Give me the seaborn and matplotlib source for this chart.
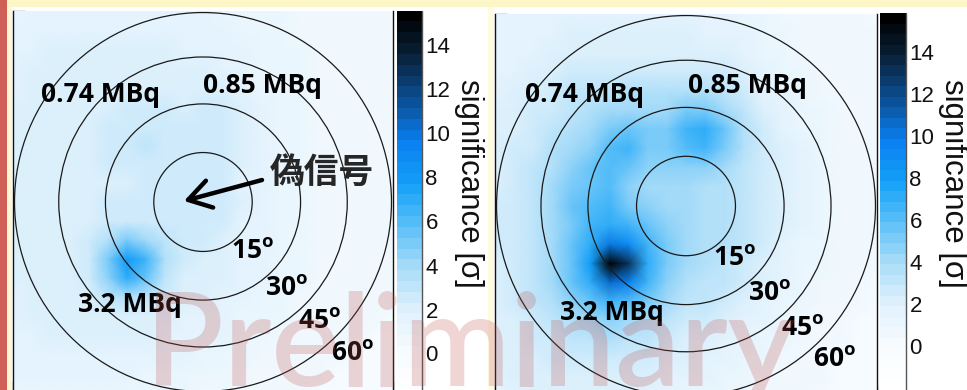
import numpy as np
import pandas as pd
import matplotlib
matplotlib.use("Agg")
import matplotlib.pyplot as plt
from matplotlib.colors import ListedColormap
from matplotlib.patches import Circle, Rectangle
import seaborn as sns

# ---------------- data (significance, 21x21 nodes) ----------------
left_significance = [
    [1.4,1.5,1.5,1.6,1.6,1.6,1.6,1.6,1.6,1.5,1.5,1.4,1.3,1.1,1.0,0.9,0.8,0.7,0.6,0.6,0.6],
    [1.6,1.7,1.7,1.8,1.8,1.8,1.8,1.8,1.8,1.7,1.7,1.5,1.4,1.2,1.0,0.9,0.8,0.7,0.6,0.6,0.6],
    [1.8,1.9,2.0,2.1,2.1,2.1,2.1,2.1,2.1,1.9,1.9,1.8,1.5,1.3,1.1,1.0,0.8,0.7,0.7,0.6,0.6],
    [1.9,2.0,2.1,2.2,2.2,2.2,2.2,2.2,2.2,2.0,2.0,1.9,1.5,1.3,1.1,1.0,0.9,0.8,0.7,0.6,0.6],
    [1.9,2.0,2.1,2.2,2.3,2.3,2.3,2.3,2.3,2.1,2.1,2.1,1.6,1.4,1.2,1.0,0.9,0.8,0.7,0.6,0.6],
    [2.0,2.1,2.2,2.3,2.3,2.4,2.5,2.6,2.5,2.4,2.5,2.5,2.0,1.6,1.3,1.1,0.9,0.8,0.7,0.6,0.6],
    [2.0,2.1,2.2,2.3,2.3,2.5,2.7,2.8,2.7,2.6,2.7,2.8,2.2,1.7,1.3,1.1,0.9,0.8,0.7,0.6,0.6],
    [2.0,2.1,2.2,2.3,2.3,2.6,2.8,3.0,2.8,2.7,2.8,2.8,2.2,1.7,1.3,1.1,0.9,0.8,0.7,0.6,0.6],
    [2.0,2.1,2.2,2.3,2.3,2.5,2.7,2.8,2.8,2.6,2.7,2.7,2.1,1.5,1.3,1.1,0.9,0.8,0.7,0.6,0.6],
    [2.0,2.1,2.2,2.3,2.3,2.4,2.4,2.6,2.6,2.7,2.7,2.6,1.9,1.5,1.3,1.1,0.9,0.8,0.7,0.6,0.6],
    [2.0,2.1,2.2,2.3,2.4,2.6,2.6,2.6,2.7,2.8,2.8,2.6,2.0,1.6,1.3,1.1,0.9,0.8,0.7,0.6,0.6],
    [2.0,2.1,2.2,2.3,2.3,2.6,2.9,2.8,2.7,2.7,2.7,2.5,1.9,1.5,1.3,1.1,0.9,0.8,0.7,0.6,0.6],
    [2.0,2.1,2.2,2.3,2.6,3.8,5.1,4.3,3.0,2.6,2.5,2.3,1.8,1.5,1.3,1.1,0.9,0.8,0.7,0.6,0.6],
    [2.0,2.1,2.2,2.3,2.9,5.3,8.0,6.5,3.5,2.5,2.3,2.1,1.7,1.5,1.3,1.1,0.9,0.8,0.7,0.6,0.6],
    [2.0,2.1,2.2,2.3,2.7,4.7,6.9,5.6,3.2,2.4,2.2,2.1,1.7,1.5,1.3,1.1,0.9,0.8,0.7,0.6,0.6],
    [1.9,2.0,2.1,2.2,2.3,3.0,3.6,3.2,2.5,2.1,2.0,1.9,1.5,1.3,1.1,0.9,0.8,0.7,0.6,0.5,0.5],
    [1.9,2.0,2.1,2.1,2.1,2.3,2.3,2.3,2.1,1.9,1.8,1.7,1.3,1.1,1.0,0.8,0.7,0.6,0.5,0.5,0.4],
    [1.8,1.9,2.0,2.0,2.0,2.1,2.1,2.0,1.9,1.7,1.6,1.5,1.1,1.0,0.9,0.7,0.6,0.5,0.5,0.4,0.4],
    [1.7,1.8,1.8,1.8,1.8,1.8,1.8,1.7,1.6,1.5,1.4,1.3,1.0,0.9,0.8,0.6,0.5,0.5,0.4,0.4,0.3],
    [1.5,1.6,1.6,1.6,1.6,1.6,1.5,1.4,1.3,1.2,1.1,1.0,0.9,0.8,0.7,0.6,0.5,0.4,0.4,0.3,0.3],
    [1.4,1.4,1.4,1.4,1.4,1.4,1.3,1.2,1.1,1.0,0.9,0.9,0.8,0.7,0.6,0.5,0.4,0.4,0.3,0.3,0.3],
]

right_significance = [
    [1.5,1.6,1.6,1.7,1.7,1.8,1.8,1.8,1.8,1.8,1.7,1.6,1.5,1.3,1.1,0.9,0.7,0.6,0.5,0.5,0.4],
    [1.6,1.7,1.8,1.9,2.0,2.0,2.1,2.1,2.1,2.1,2.0,1.9,1.8,1.5,1.2,1.0,0.8,0.7,0.6,0.5,0.5],
    [1.7,1.8,1.9,2.1,2.2,2.3,2.4,2.4,2.4,2.4,2.3,2.2,2.0,1.7,1.4,1.1,0.9,0.7,0.6,0.5,0.5],
    [1.8,1.9,2.1,2.3,2.5,2.7,2.8,2.8,2.8,2.8,2.8,2.8,2.5,2.1,1.6,1.3,1.0,0.8,0.7,0.6,0.5],
    [1.9,2.1,2.3,2.6,3.0,3.2,3.4,3.5,3.5,3.5,3.6,3.6,3.1,2.5,1.9,1.5,1.2,0.9,0.8,0.6,0.6],
    [2.0,2.2,2.5,2.9,3.4,3.8,4.0,4.2,4.1,4.3,5.1,5.4,4.3,3.0,2.2,1.7,1.3,1.0,0.8,0.7,0.6],
    [2.1,2.3,2.7,3.2,3.8,4.3,5.2,5.6,5.0,5.0,6.5,7.2,5.6,3.5,2.5,1.9,1.4,1.1,0.9,0.7,0.6],
    [2.2,2.5,2.9,3.5,4.1,4.9,6.2,6.6,5.4,5.0,6.0,6.6,5.3,3.6,2.7,2.0,1.5,1.1,0.9,0.7,0.6],
    [2.3,2.6,3.1,3.8,4.6,5.6,6.0,5.8,4.9,4.5,4.7,4.9,4.3,3.4,2.7,2.1,1.6,1.2,0.9,0.7,0.6],
    [2.4,2.7,3.2,4.0,5.2,5.9,6.0,4.8,4.4,4.2,4.0,3.9,3.7,3.3,2.7,2.1,1.6,1.2,0.9,0.7,0.6],
    [2.5,2.8,3.3,4.1,5.5,6.4,6.5,5.2,4.7,4.3,4.0,3.9,3.7,3.3,2.7,2.1,1.6,1.2,0.9,0.7,0.6],
    [2.5,2.8,3.4,4.2,5.2,6.9,7.4,6.5,5.6,4.6,4.2,3.9,3.6,3.2,2.6,2.0,1.5,1.1,0.9,0.7,0.5],
    [2.5,2.8,3.4,4.4,5.7,7.3,10.0,9.0,6.6,5.1,4.2,3.9,3.5,3.0,2.5,1.9,1.4,1.1,0.8,0.6,0.5],
    [2.4,2.7,3.3,4.4,5.9,8.3,15.5,13.0,7.0,5.2,4.2,3.7,3.3,2.8,2.3,1.8,1.3,1.0,0.8,0.6,0.5],
    [2.4,2.6,3.2,4.1,5.5,7.3,10.5,9.8,6.5,4.8,3.8,3.4,3.0,2.6,2.1,1.6,1.2,0.9,0.7,0.5,0.4],
    [2.3,2.5,3.0,3.6,4.6,5.7,6.5,6.2,5.2,4.0,3.3,3.0,2.6,2.2,1.8,1.4,1.0,0.8,0.6,0.5,0.4],
    [2.2,2.4,2.7,3.2,3.8,4.3,4.6,4.4,3.8,3.2,2.8,2.5,2.2,1.9,1.5,1.2,0.9,0.7,0.5,0.4,0.4],
    [2.1,2.3,2.5,2.8,3.2,3.4,3.5,3.3,3.0,2.6,2.3,2.1,1.9,1.6,1.3,1.0,0.8,0.6,0.5,0.4,0.3],
    [2.0,2.1,2.3,2.5,2.7,2.8,2.9,2.8,2.5,2.2,2.0,1.8,1.6,1.3,1.1,0.9,0.7,0.5,0.4,0.4,0.3],
    [1.9,2.0,2.1,2.3,2.4,2.4,2.4,2.3,2.1,1.9,1.7,1.5,1.3,1.1,0.9,0.7,0.6,0.5,0.4,0.3,0.3],
    [1.8,1.9,2.0,2.1,2.1,2.1,2.1,2.0,1.8,1.6,1.4,1.3,1.1,0.9,0.8,0.6,0.5,0.4,0.3,0.3,0.3],
]

ring_angles_deg = [15, 30, 45, 60]
source_labels = ["0.74 MBq", "0.85 MBq", "3.2 MBq"]
fake_signal_label = "偽信号"
cbar_ticks = [0, 2, 4, 6, 8, 10, 12, 14]
cbar_title = "significance [σ]"
watermark = "Preliminary"
palette_anchor_colors = ["#ffffff", "#f6fbff", "#dff1fc", "#a8dcf8", "#5cc0f8",
                         "#12a0f8", "#0a80f0", "#0b4f96", "#0a2440", "#000000"]

# ---------------- style ----------------
sns.set_theme(style="white")
plt.rcParams["font.family"] = ["Liberation Sans", "DejaVu Sans"]
plt.rcParams["mathtext.fontset"] = "custom"
plt.rcParams["mathtext.bf"] = "Open Sans:bold"
plt.rcParams["mathtext.rm"] = "Open Sans"

cmap = ListedColormap(sns.blend_palette(palette_anchor_colors, n_colors=36))

W, H = 967, 390
fig = plt.figure(figsize=(W / 100, H / 100), dpi=100)
fig.patch.set_facecolor("white")


def box(x0, y0, x1, y1):
    return [x0 / W, 1 - y1 / H, (x1 - x0) / W, (y1 - y0) / H]


panels = [
    dict(grid=left_significance, ax=box(13, 11, 393, 393), cax=box(397, 10.6, 422, 400), vmax=15.7),
    dict(grid=right_significance, ax=box(495, 14, 877, 398), cax=box(880, 13.1, 906, 390), vmax=16.0),
]

n = len(left_significance)
center = (n - 1) / 2.0
r60 = 9.92
for p in panels:
    ax = fig.add_axes(p["ax"])
    cax = fig.add_axes(p["cax"])
    df = pd.DataFrame(p["grid"])
    sns.heatmap(df, ax=ax, cmap=cmap, vmin=-2, vmax=p["vmax"], cbar=True, cbar_ax=cax,
                xticklabels=False, yticklabels=False, shading="gouraud")
    ax.set_xlim(0, n - 1)
    ax.set_ylim(n - 1, 0)
    for side in ["left", "bottom", "right"]:
        ax.spines[side].set_visible(True)
        ax.spines[side].set_color("#111111")
        ax.spines[side].set_linewidth(1.0)
    ax.spines["top"].set_visible(False)
    ax.set_xticks(range(0, n, 5))
    ax.set_yticks(range(0, n, 5))
    ax.set_xticks(range(n), minor=True)
    ax.set_yticks(range(n), minor=True)
    ax.set_xticklabels([])
    ax.set_yticklabels([])
    ax.tick_params(which="major", direction="in", length=8.5, width=0.9, color="#111111",
                   left=True, bottom=True, right=False, top=False)
    ax.tick_params(which="minor", direction="in", length=4.3, width=0.9, color="#111111",
                   left=True, bottom=True, right=False, top=False)
    # rings of constant zenith angle (equal-area projection)
    for ang in ring_angles_deg:
        r = r60 * np.sin(np.radians(ang) / 2) / np.sin(np.radians(30))
        ax.add_patch(Circle((center, center), r, fill=False, lw=0.9, ec="#1a1a1a", zorder=5))
    cb = ax.collections[0].colorbar
    cb.ax.minorticks_off()
    cb.set_ticks(cbar_ticks)
    cb.ax.tick_params(axis="y", which="major", direction="in", length=7, width=1.0,
                      color="#222222", right=True, left=False,
                      labelright=False, labelleft=False)
    for t in cbar_ticks:
        cb.ax.annotate(str(t), xy=(1.0, t), xycoords=("axes fraction", "data"),
                       xytext=(2.5, 0), textcoords="offset points", ha="left", va="center",
                       fontsize=16, family=["Liberation Sans", "DejaVu Sans"],
                       color="#111111", annotation_clip=False)
    cb.ax.plot([1, 1], [0, 1], transform=cb.ax.transAxes, color="#555555", lw=1.0, clip_on=False)

# ---------------- slide decorations ----------------
fig.add_artist(Rectangle((0, 1 - 7 / H), 1, 7 / H, transform=fig.transFigure,
                         facecolor="#fdf7c8", edgecolor="none", zorder=1))
fig.add_artist(Rectangle((0, 0), 7 / W, 1, transform=fig.transFigure,
                         facecolor="#cf5f57", edgecolor="none", zorder=1))
fig.add_artist(Rectangle((7 / W, 0), 5 / W, 1 - 7 / H, transform=fig.transFigure,
                         facecolor="#fdf7d6", edgecolor="none", zorder=1))
fig.add_artist(Rectangle((488 / W, 0), 6 / W, 1 - 7 / H, transform=fig.transFigure,
                         facecolor="#fffbe3", edgecolor="none", zorder=1))

# ---------------- labels ----------------
lab_kw = dict(fontsize=19, fontweight="bold", family=["Open Sans", "DejaVu Sans"],
              color="black", ha="left", va="baseline", zorder=12)
label_pos = {
    "left": {"0.74 MBq": (41, 101.5), "0.85 MBq": (203, 93), "3.2 MBq": (78, 312)},
    "right": {"0.74 MBq": (525, 102), "0.85 MBq": (688, 93), "3.2 MBq": (560, 320)},
}
ring_pos = {
    "left": [(231, 258), (265, 295), (298, 328), (331, 360)],
    "right": [(713, 265), (748, 300), (781, 335), (813, 366)],
}
for side in ["left", "right"]:
    for name in source_labels:
        x, y = label_pos[side][name]
        fig.text(x / W, 1 - y / H, name, **lab_kw)
    for ang, (x, y) in zip(ring_angles_deg, ring_pos[side]):
        fig.text(x / W, 1 - y / H, f"{ang}" + r"$^{\mathbf{o}}$", **lab_kw)

fig.text(270 / W, 1 - 172 / H, fake_signal_label, fontsize=25, fontweight="bold",
         family=["Noto Sans CJK JP", "DejaVu Sans"], ha="left", va="center", zorder=12)
fig.axes[0].annotate("", xy=(184, H - 201), xytext=(262, H - 180),
                     xycoords="figure pixels", textcoords="figure pixels",
                     arrowprops=dict(arrowstyle="->,head_length=0.8,head_width=0.5",
                                     lw=3.2, color="black", mutation_scale=20,
                                     shrinkA=0, shrinkB=0), zorder=12)

for cx in (469, 953):
    fig.text(cx / W, 1 - 183 / H, cbar_title, fontsize=22.5, rotation=270,
             ha="center", va="center", color="#111111", zorder=12)

fig.text(145 / W, 1 - 386 / H, watermark, fontsize=93, fontweight="semibold",
         family=["Lato", "DejaVu Sans"],
         color="#c0504d", alpha=0.24, ha="left", va="baseline", zorder=20)

fig.savefig("out.png", dpi=100)
